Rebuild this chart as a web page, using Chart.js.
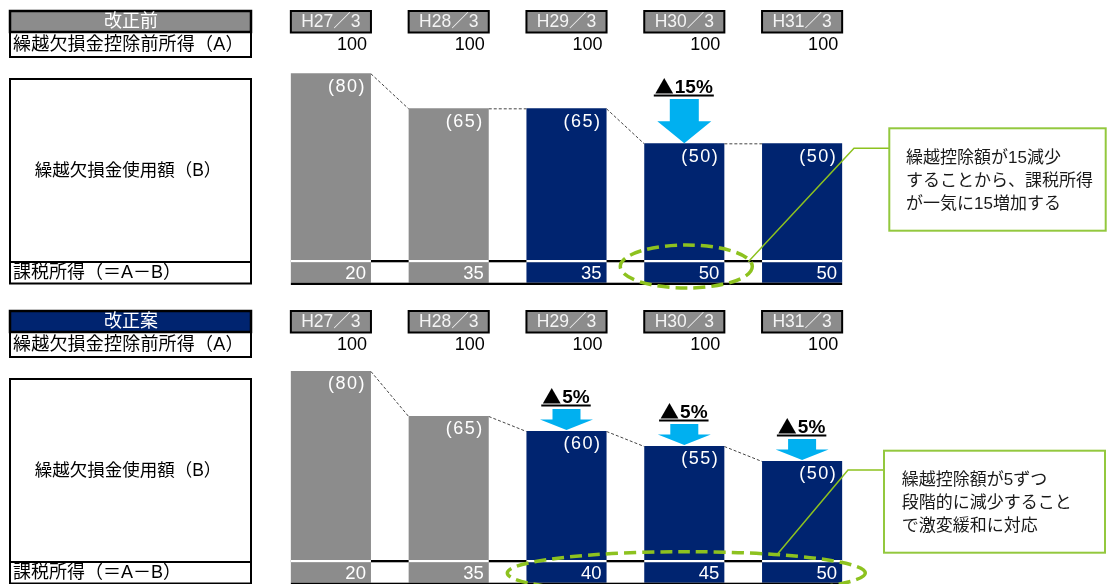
<!DOCTYPE html>
<html><head><meta charset="utf-8">
<script src="https://cdn.jsdelivr.net/npm/chart.js@4/dist/chart.umd.min.js"></script>
<style>
html,body{margin:0;padding:0;background:#fff;overflow:hidden;width:1112px;height:584px;}
canvas{position:absolute;left:0;}
#c1{top:0}#c2{top:300px}
</style></head><body>
<canvas id="c1" width="1112" height="300"></canvas>
<canvas id="c2" width="1112" height="300"></canvas>
<script>
// ---- data ----
const categories = ['H27／3','H28／3','H29／3','H30／3','H31／3'];
const incomeBeforeDeduction = [100,100,100,100,100];      // (A)
const lossUsedCurrent = [80,65,65,50,50];                // (B) 改正前
const taxableCurrent = [20,35,35,50,50];                 // (A-B) 改正前
const lossUsedProposal = [80,65,60,55,50];               // (B) 改正案
const taxableProposal = [20,35,40,45,50];                // (A-B) 改正案
const panelTitles = ['改正前','改正案'];
const rowLabels = ['繰越欠損金控除前所得（A）','繰越欠損金使用額（B）','課税所得（＝A－B）'];
const calloutCurrent = ['繰越控除額が15減少','することから、課税所得','が一気に15増加する'];
const calloutProposal = ['繰越控除額が5ずつ','段階的に減少すること','で激変緩和に対応'];
const arrowIdxCurrent = [3];
const arrowIdxProposal = [2,3,4];

// ---- styles ----
const GRAY = '#8c8c8c', NAVY = '#002470', GREEN = '#8dc21f', BLUE = '#00b0f0';
const barColors = [GRAY, GRAY, NAVY, NAVY, NAVY];
const FONT = '"Liberation Sans","Noto Sans CJK JP",sans-serif';
const CJK = '"Noto Sans CJK JP",sans-serif';

function txt(ctx, s, x, y, o = {}) {
  const size = o.size || 17;
  ctx.font = `${o.weight || 'normal'} ${size}px ${o.family || FONT}`;
  ctx.fillStyle = o.color || '#000';
  ctx.textAlign = o.align || 'left';
  ctx.textBaseline = o.baseline || 'middle';
  if ('letterSpacing' in ctx) ctx.letterSpacing = (o.spacing || 0) + 'px';
  ctx.fillText(s, x, y);
  const w = ctx.measureText(s).width;
  if ('letterSpacing' in ctx) ctx.letterSpacing = '0px';
  return w;
}

function downArrow(ctx, cx, tipY, s) {
  const hb = tipY - s.headH, st = hb - s.shaftH;
  ctx.beginPath();
  ctx.moveTo(cx - s.shaftW / 2, st);
  ctx.lineTo(cx + s.shaftW / 2, st);
  ctx.lineTo(cx + s.shaftW / 2, hb);
  ctx.lineTo(cx + s.headW / 2, hb);
  ctx.lineTo(cx, tipY);
  ctx.lineTo(cx - s.headW / 2, hb);
  ctx.lineTo(cx - s.shaftW / 2, hb);
  ctx.closePath();
  ctx.fillStyle = BLUE;
  ctx.fill();
  return st;
}

function drawPanel(chart, used, taxable, cfg) {
  const ctx = chart.ctx;
  const meta = chart.getDatasetMeta(0);
  const bars = meta.data.map(el => {
    const p = el.getProps(['x', 'y', 'width'], true);
    return { x: p.x, y: p.y, w: p.width, l: p.x - p.width / 2, r: p.x + p.width / 2 };
  });
  const base = chart.chartArea.bottom;
  ctx.save();

  // ---- left table ----
  const L = 10, R = 251, W = R - L;
  ctx.strokeStyle = '#000';
  ctx.fillStyle = cfg.titleFill; ctx.fillRect(L, 11, W, 21);
  ctx.lineWidth = 2.5; ctx.strokeRect(L, 11, W, 21);
  txt(ctx, cfg.title, 131, 22, { size: 18, color: '#fff', align: 'center' });
  ctx.lineWidth = 2;
  ctx.strokeRect(L, 32, W, 25);
  txt(ctx, rowLabels[0], 13, 45, { size: 18, spacing: 0.2 });
  ctx.strokeRect(L, 79, W, 183);
  txt(ctx, rowLabels[1], 128, 171, { size: 17.5, align: 'center' });
  ctx.strokeRect(L, 262, W, 21.5);
  txt(ctx, rowLabels[2], 13, 273, { size: 18 });

  // ---- category header cells and (A) row ----
  bars.forEach((b, i) => {
    ctx.fillStyle = GRAY; ctx.fillRect(b.l, 11, b.w, 21.5);
    ctx.lineWidth = 2; ctx.strokeStyle = '#000'; ctx.strokeRect(b.l, 11, b.w, 21.5);
    txt(ctx, categories[i], b.x, 22.5, { size: 17.5, color: '#f4f4f4', align: 'center' });
    txt(ctx, String(incomeBeforeDeduction[i]), b.r - 4, 45.5, { size: 18, align: 'right' });
  });

  // ---- separator, taxable-income band, baseline ----
  const first = bars[0], last = bars[bars.length - 1];
  ctx.fillStyle = '#000';
  ctx.fillRect(first.l, base, last.r - first.l, 2.3);
  bars.forEach((b, i) => {
    ctx.fillStyle = '#fff'; ctx.fillRect(b.l, base, b.w, 2.3);
    ctx.fillStyle = barColors[i]; ctx.fillRect(b.l, base + 2.3, b.w, 20.4);
    txt(ctx, String(taxable[i]), b.r - 5, base + 13.5, { size: 18.5, color: '#fff', align: 'right' });
  });
  ctx.fillStyle = '#000';
  ctx.fillRect(first.l, base + 22.7, last.r - first.l, 2.3);

  // ---- connectors between bar tops ----
  ctx.strokeStyle = '#444'; ctx.lineWidth = 1; ctx.setLineDash([3, 2]);
  for (let i = 0; i < bars.length - 1; i++) {
    ctx.beginPath();
    ctx.moveTo(bars[i].r, bars[i].y + 0.5);
    ctx.lineTo(bars[i + 1].l, bars[i + 1].y + 0.5);
    ctx.stroke();
  }
  ctx.setLineDash([]);

  // ---- value labels ----
  bars.forEach((b, i) => {
    txt(ctx, '(' + used[i] + ')', b.r - 5, b.y + 13.5, { size: 18, color: '#fff', align: 'right', spacing: 1.5 });
  });

  // ---- decrease arrows ----
  cfg.arrowIdx.forEach(i => {
    const b = bars[i];
    const st = downArrow(ctx, b.x, b.y - cfg.arrow.tipGap, cfg.arrow);
    const ul = st - 4;
    const tri = '▲', num = (used[i - 1] - used[i]) + '%';
    ctx.textAlign = 'left'; ctx.textBaseline = 'alphabetic'; ctx.fillStyle = '#000';
    ctx.font = `bold 19px ${CJK}`;
    const w1 = ctx.measureText(tri).width;
    ctx.font = `bold 19px ${FONT}`;
    const w2 = ctx.measureText(num).width;
    const tw = w1 + w2;
    const x0 = b.x - tw / 2;
    ctx.font = `bold 19px ${CJK}`;
    ctx.fillText(tri, x0 - 1, ul - 1.5);
    ctx.font = `bold 19px ${FONT}`;
    ctx.fillText(num, x0 + w1, ul - 2);
    ctx.fillRect(x0 - 2, ul - 0.5, tw + 3, 2);
  });

  // ---- callout ----
  const c = cfg.callout;
  ctx.strokeStyle = GREEN; ctx.lineWidth = 1.5;
  ctx.beginPath();
  ctx.moveTo(c.leader[0][0], c.leader[0][1]);
  for (let k = 1; k < c.leader.length; k++) ctx.lineTo(c.leader[k][0], c.leader[k][1]);
  ctx.stroke();
  ctx.fillStyle = '#fff'; ctx.fillRect(c.x, c.y, c.w, c.h);
  ctx.lineWidth = 2; ctx.strokeStyle = '#93c83e'; ctx.strokeRect(c.x, c.y, c.w, c.h);
  c.lines.forEach((s, k) => txt(ctx, s, c.tx, c.ty + k * 22.8, { size: 17, color: '#1a1a1a' }));

  // ---- dashed highlight ellipse ----
  const e = cfg.ellipse(bars, base);
  ctx.strokeStyle = GREEN; ctx.lineWidth = 3.5; ctx.setLineDash([12, 6]);
  ctx.beginPath();
  ctx.ellipse(e.cx, e.cy, e.rx, e.ry, 0, 0, Math.PI * 2);
  ctx.stroke();
  ctx.setLineDash([]);

  ctx.restore();
}

function makePanel(id, used, taxable, cfg) {
  return new Chart(document.getElementById(id), {
    type: 'bar',
    data: {
      labels: categories,
      datasets: [{ label: rowLabels[1], data: used, backgroundColor: barColors, borderWidth: 0,
                   barPercentage: 0.68, categoryPercentage: 1 }]
    },
    options: {
      responsive: false, animation: false, devicePixelRatio: 1, events: [],
      layout: { padding: { left: 272, right: 251, top: cfg.padTop, bottom: 40 } },
      scales: { x: { display: false }, y: { display: false, min: cfg.yMin, max: cfg.yMax } },
      plugins: { legend: { display: false }, tooltip: { enabled: false } }
    },
    plugins: [{ id: 'deco_' + id, afterDraw(chart) { drawPanel(chart, used, taxable, cfg); } }]
  });
}

makePanel('c1', lossUsedCurrent, taxableCurrent, {
  title: panelTitles[0], titleFill: GRAY,
  padTop: 26.65, yMin: 0, yMax: 100,
  arrowIdx: arrowIdxCurrent,
  arrow: { tipGap: 0, headH: 22, shaftH: 22.3, shaftW: 29, headW: 54 },
  callout: { x: 889.3, y: 128.3, w: 216.4, h: 102.4, tx: 906, ty: 158.7, lines: calloutCurrent,
             leader: [[889, 148.3], [854, 148.3], [748.3, 261.7]] },
  ellipse: (bars, base) => ({ cx: bars[3].x + 2, cy: base + 6.5, rx: 66, ry: 21.5 })
});

makePanel('c2', lossUsedProposal, taxableProposal, {
  title: panelTitles[1], titleFill: NAVY,
  padTop: 41, yMin: 17, yMax: 90,
  arrowIdx: arrowIdxProposal,
  arrow: { tipGap: 1, headH: 10.5, shaftH: 10.5, shaftW: 28, headW: 53 },
  callout: { x: 884, y: 150.7, w: 221, h: 102, tx: 901.7, ty: 180.5, lines: calloutProposal,
             leader: [[884, 170], [848, 170], [776.7, 255]] },
  ellipse: (bars, base) => ({ cx: (bars[2].x + bars[4].x) / 2 + 2, cy: base + 13, rx: 179, ry: 21.3 })
});
</script>
</body></html>
